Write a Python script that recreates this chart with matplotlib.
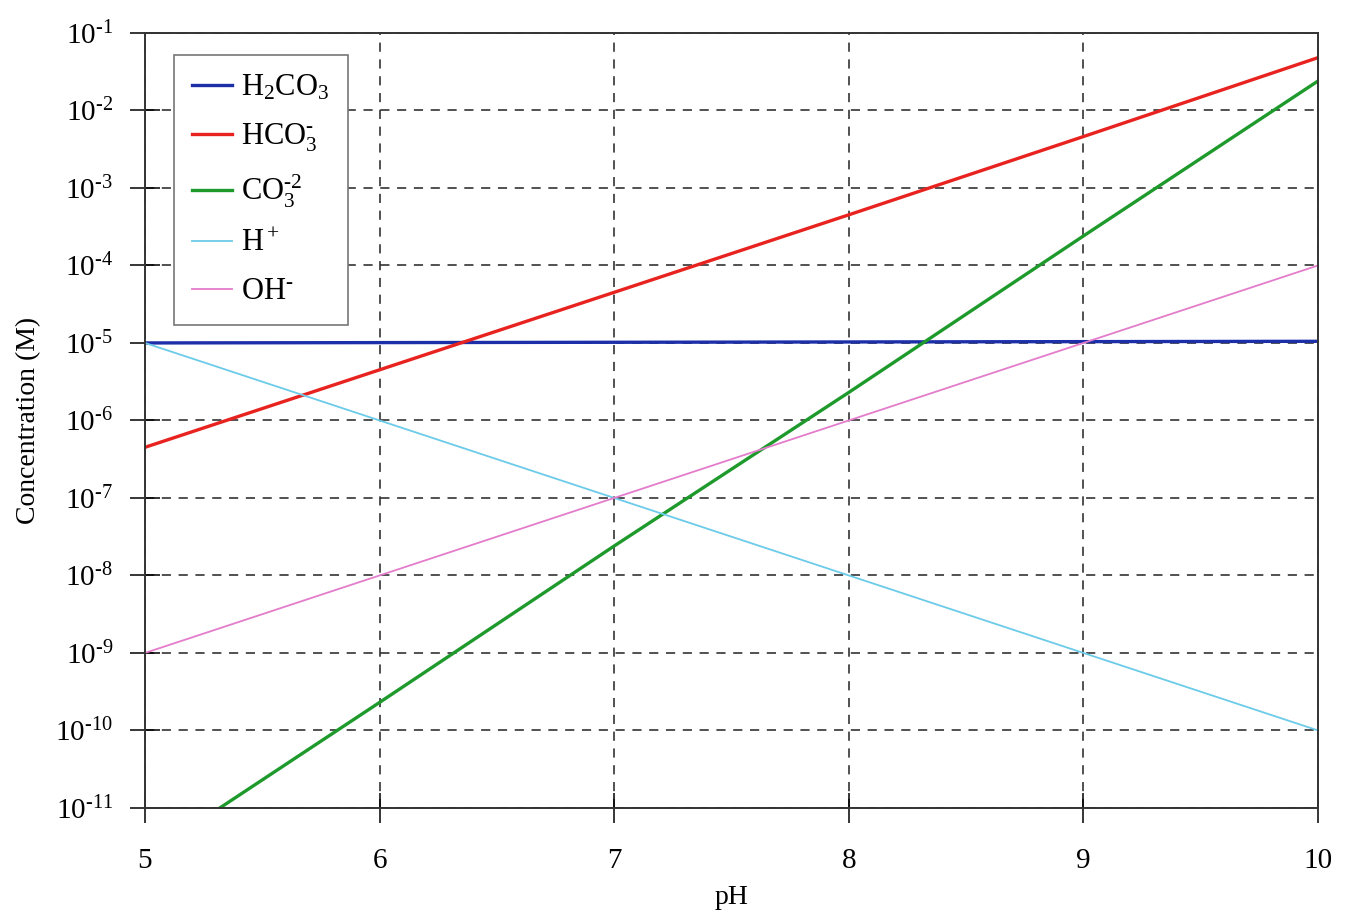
import matplotlib
matplotlib.use("Agg")
import matplotlib.pyplot as plt
from matplotlib.ticker import FuncFormatter
import numpy as np

plt.rcParams['font.family'] = ['Liberation Serif', 'DejaVu Serif']
plt.rcParams['mathtext.fontset'] = 'custom'
plt.rcParams['mathtext.rm'] = 'Liberation Serif'
plt.rcParams['mathtext.it'] = 'Liberation Serif:italic'
plt.rcParams['mathtext.bf'] = 'Liberation Serif:bold'

# values at whole pH units
ph = [5, 6, 7, 8, 9, 10]
h2co3 = [1.0e-5, 1.01e-5, 1.02e-5, 1.03e-5, 1.04e-5, 1.05e-5]
hco3 = [4.5e-7, 4.5e-6, 4.5e-5, 4.5e-4, 4.6e-3, 4.8e-2]
co3 = [2.3e-12, 2.3e-10, 2.4e-8, 2.3e-6, 2.4e-4, 2.4e-2]
h_ion = [1e-5, 1e-6, 1e-7, 1e-8, 1e-9, 1e-10]
oh_ion = [1e-9, 1e-8, 1e-7, 1e-6, 1e-5, 1e-4]
names = [r'H$_2$CO$_3$', r'HCO$_3^{\text{-}}$', r'CO$_3^{\text{-2}}$',
         r'H$^+$', r'OH$^{\text{-}}$']

fig = plt.figure(figsize=(13.51, 9.15), dpi=100)
ax = fig.add_axes([0.1073, 0.117, 0.8683, 0.847])

ax.plot(ph, h2co3, color='#1c2fa8', lw=2.4, label=names[0])
ax.plot(ph, hco3, color='#e8231f', lw=2.4, label=names[1])
ax.plot(ph, co3, color='#1e9a2c', lw=2.4, label=names[2])
ax.plot(ph, h_ion, color='#6ccbe8', lw=1.3, label=names[3])
ax.plot(ph, oh_ion, color='#e47ccc', lw=1.3, label=names[4])

ax.set_yscale('log')
ax.set_xlim(5, 10)
ax.set_ylim(1e-11, 1e-1)
ax.set_yticks([10.0**k for k in range(-11, 0)])
ax.minorticks_off()
ax.set_xticks([5, 6, 7, 8, 9, 10])
ax.yaxis.set_major_formatter(FuncFormatter(
    lambda v, pos: r'10$^{\text{%d}}$' % round(np.log10(v))))

ax.grid(True, which='major', color='#222222', ls=(0, (6, 5)), lw=1.1)
ax.tick_params(direction='inout', length=22, width=1.1, labelsize=21)
ax.tick_params(axis='x', pad=18)
ax.tick_params(axis='y', pad=12)
for s in ax.spines.values():
    s.set_linewidth(1.4)
    s.set_color('#333333')

ax.set_xlabel('pH', fontsize=20, labelpad=8)
ax.set_ylabel('Concentration (M)', fontsize=20, labelpad=10)

leg = ax.legend(loc='upper left', bbox_to_anchor=(0.0247, 0.9716), fontsize=22,
                handlelength=1.3, handletextpad=0.3, labelspacing=0.62,
                borderpad=0.6, borderaxespad=0, fancybox=False, framealpha=1)
leg.get_frame().set_edgecolor('#777777')
leg.get_frame().set_linewidth(1.2)

fig.savefig('out.png', dpi=100)
